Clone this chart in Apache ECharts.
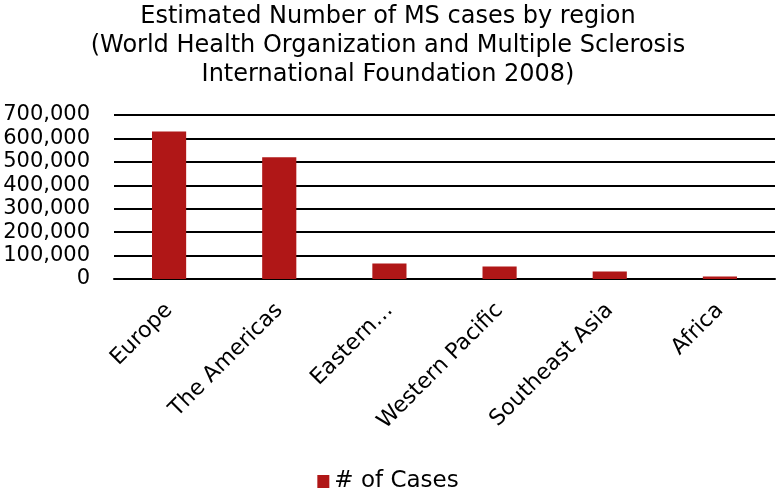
<!DOCTYPE html>
<html>
<head>
<meta charset="utf-8">
<script src="https://cdn.jsdelivr.net/npm/echarts@6/dist/echarts.min.js"></script>
<style>
  html, body { margin: 0; padding: 0; background: #fff; }
  #chart { width: 776px; height: 491px; }
</style>
</head>
<body>
<div id="chart"></div>
<script>
const regions = ["Europe", "The Americas", "Eastern Mediterranean", "Western Pacific", "Southeast Asia", "Africa"];
const cases = [630000, 520000, 66000, 53000, 32000, 11000];
const yTicks = [0, 100000, 200000, 300000, 400000, 500000, 600000, 700000];

const FONT = "DejaVu Sans";
const chart = echarts.init(document.getElementById("chart"));

const option = {
  animation: false,
  textStyle: { fontFamily: FONT, color: "#000" },
  title: {
    text: "Estimated Number of MS cases by region\n(World Health Organization and Multiple Sclerosis\nInternational Foundation 2008)",
    left: "center",
    top: -3,
    textStyle: {
      fontFamily: FONT,
      fontSize: 24,
      fontWeight: "normal",
      color: "#000",
      lineHeight: 29,
    },
  },
  grid: { left: 114, right: 1, top: 115, bottom: 212 },
  legend: {
    bottom: -7,
    left: "center",
    icon: "rect",
    itemWidth: 12,
    itemHeight: 13,
    itemGap: 8,
    textStyle: { fontFamily: FONT, fontSize: 23, color: "#000" },
    data: ["# of Cases"],
  },
  xAxis: {
    type: "category",
    data: regions,
    axisTick: { show: false },
    axisLine: { lineStyle: { color: "#000", width: 2 } },
    axisLabel: {
      rotate: 45,
      interval: 0,
      margin: 28,
      fontFamily: FONT,
      fontSize: 22,
      color: "#000",
      formatter: (v) => (v.length > 16 ? v.split(" ")[0] + "…" : v),
    },
  },
  yAxis: {
    type: "value",
    min: yTicks[0],
    max: yTicks[yTicks.length - 1],
    interval: yTicks[1] - yTicks[0],
    axisLine: { show: false },
    axisTick: { show: false },
    splitLine: { lineStyle: { color: "#000", width: 2 } },
    axisLabel: {
      margin: 24,
      fontFamily: FONT,
      fontSize: 21,
      color: "#000",
      formatter: (v) => v.toLocaleString("en-US"),
    },
  },
  series: [
    {
      name: "# of Cases",
      type: "bar",
      data: cases,
      barWidth: "31%",
      itemStyle: { color: "#B01717" },
    },
  ],
};

chart.setOption(option);
</script>
</body>
</html>
